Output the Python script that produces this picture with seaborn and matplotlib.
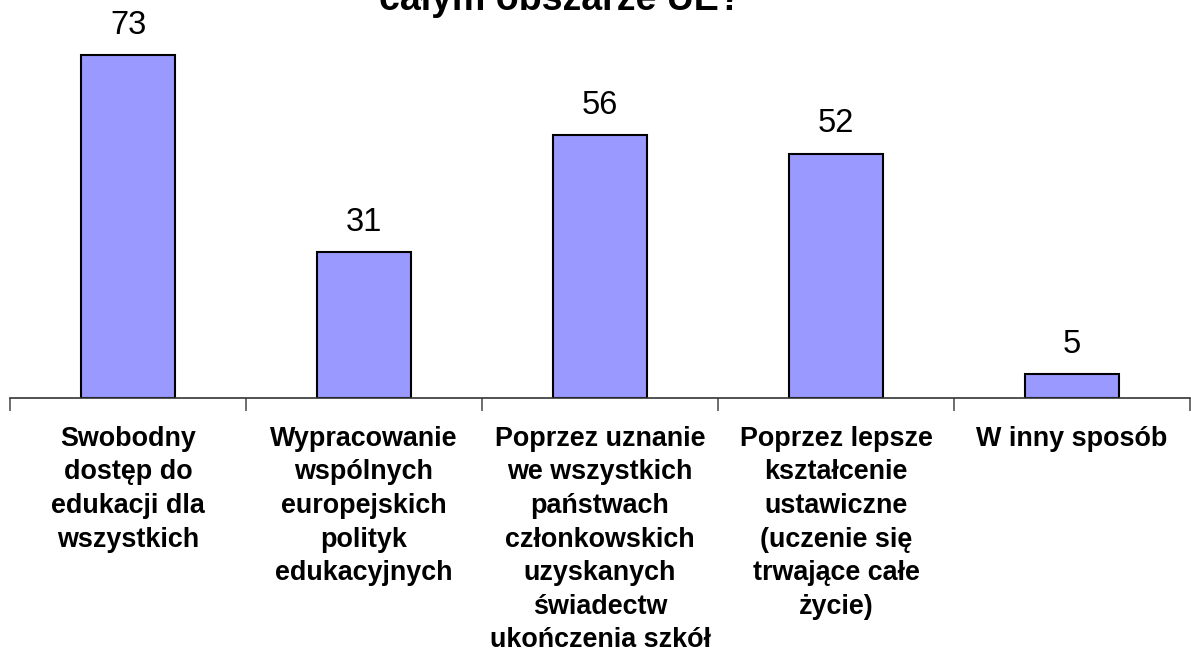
import matplotlib
matplotlib.use("Agg")
import matplotlib.pyplot as plt
import pandas as pd
import seaborn as sns

categories = [
    "Swobodny\ndostęp do\nedukacji dla\nwszystkich",
    "Wypracowanie\nwspólnych\neuropejskich\npolityk\nedukacyjnych",
    "Poprzez uznanie\nwe wszystkich\npaństwach\nczłonkowskich\nuzyskanych\nświadectw\nukończenia szkół",
    "Poprzez lepsze\nkształcenie\nustawiczne\n(uczenie się\ntrwające całe\nżycie)",
    "W inny sposób",
]
values = [73, 31, 56, 52, 5]
title = "całym obszarze UE?"

sns.set_style("white")
plt.rcParams["font.family"] = ["Liberation Sans", "DejaVu Sans"]
plt.rcParams["text.color"] = "black"
plt.rcParams["xtick.color"] = "black"

df = pd.DataFrame({"cat": categories, "val": values})

fig = plt.figure(figsize=(11.91, 6.55), dpi=100)
ax = fig.add_axes([10 / 1191, 1 - 398 / 655, 1180 / 1191, 378 / 655])
sns.barplot(data=df, x="cat", y="val", color="#9999FF", saturation=1,
            width=0.4, edgecolor="black", linewidth=1.5, ax=ax)

for i, v in enumerate(values):
    ax.text(i, v + 3.0, str(v), ha="center", va="bottom", fontsize=23.5, color="black")

ax.set_xlim(-0.5, len(values) - 0.5)
ax.set_ylim(0, 80.4)
ax.set_xlabel(""); ax.set_ylabel("")
ax.set_yticks([])
for s in ["top", "right", "left"]:
    ax.spines[s].set_visible(False)
ax.spines["bottom"].set_color("#333333")
ax.spines["bottom"].set_linewidth(1.2)

ax.set_xticks([i - 0.5 for i in range(len(values) + 1)], minor=True)
ax.tick_params(axis="x", which="minor", bottom=True, length=9, width=1.2,
               color="#555555", direction="out")
ax.tick_params(axis="x", which="major", length=0, pad=20)
plt.setp(ax.get_xticklabels(), fontsize=19.4, fontweight="bold", va="top",
         ha="center", linespacing=1.38, color="black")

fig.text(560 / 1191, 1 - 10 / 655, title, ha="center", va="baseline",
         fontsize=27, fontweight="bold")

fig.savefig("out.png", dpi=100)
